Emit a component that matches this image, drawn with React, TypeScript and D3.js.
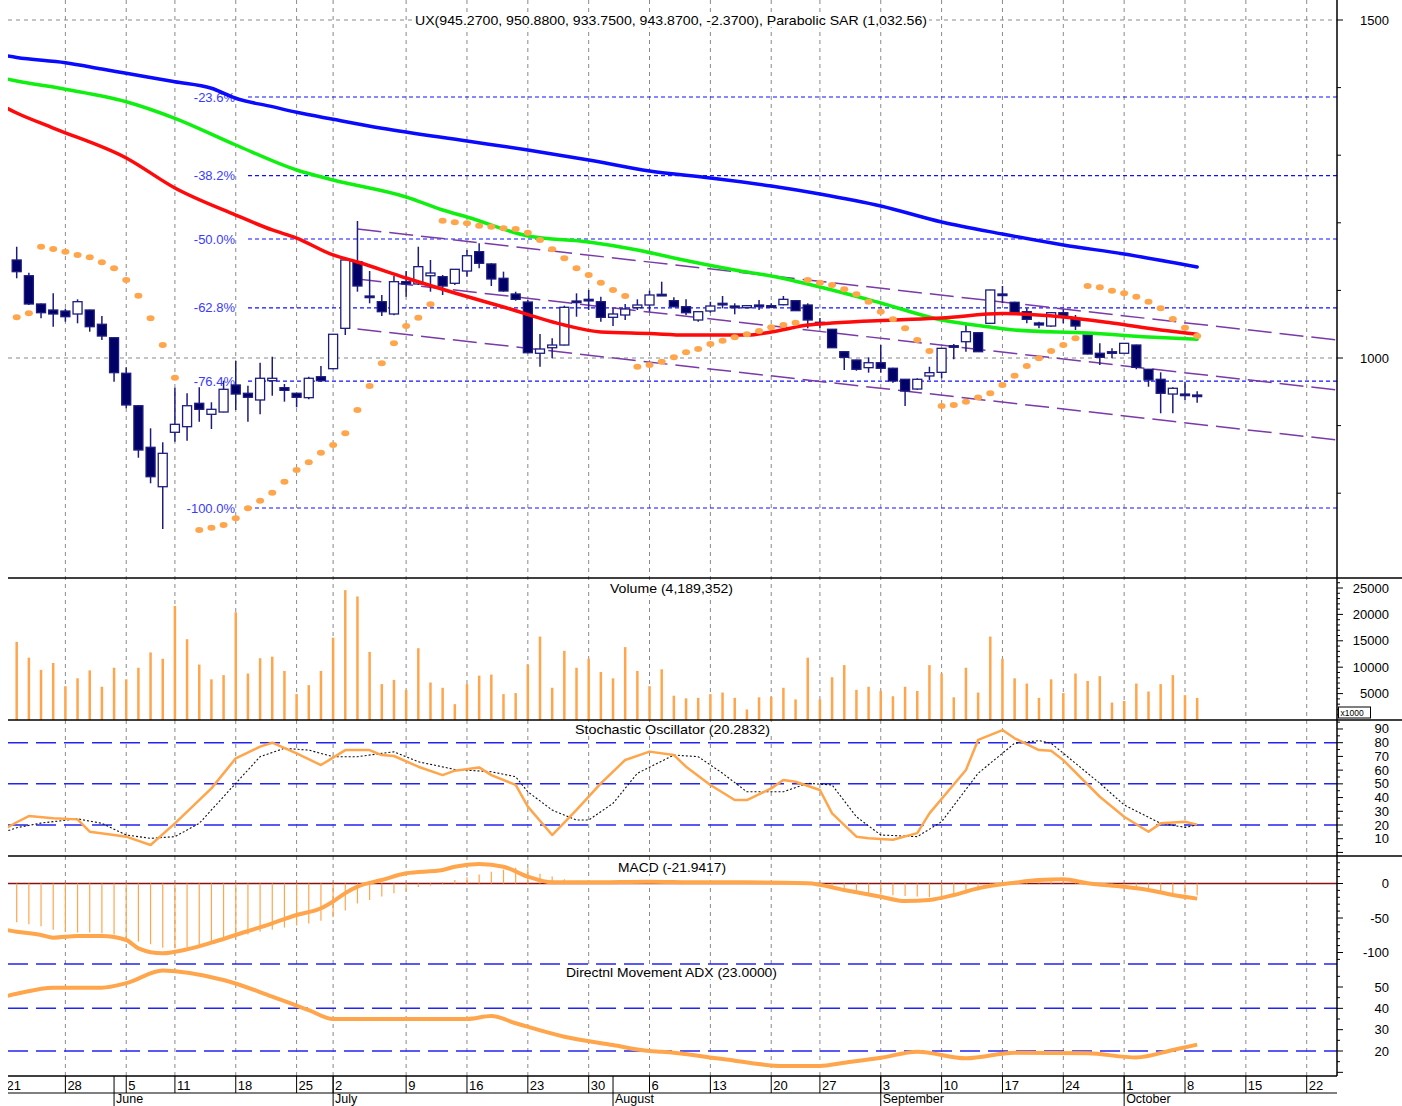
import React from "react";
import * as d3 from "d3";

const W = 1402;
const H = 1106;
const FONT = "'Liberation Sans', Arial, sans-serif";

// ---------- X axis (trading-day index) ----------
const weekTickIdx = [-1, 4, 9, 13, 18, 23, 26, 32, 37, 42, 47, 52, 57, 62, 66, 71, 76, 81, 86, 91, 96, 101, 106];
const weekTickLabels = ["21", "28", "5", "11", "18", "25", "2", "9", "16", "23", "30", "6", "13", "20", "27", "3", "10", "17", "24", "1", "8", "15", "22"];
const monthIdx = [8, 26, 49, 71, 91];
const monthLabels = ["June", "July", "August", "September", "October"];

// ---------- OHLC ----------
const opens = [1145.0, 1121.7, 1079.9, 1071.0, 1069.5, 1065.1, 1071.0, 1049.9, 1030.0, 977.4,
  929.4, 867.9, 809.6, 890.1, 898.4, 933.0, 916.7, 920.1, 960.1, 947.8,
  937.9, 966.4, 956.1, 947.8, 941.3, 972.3, 984.2, 1043.9, 1142.5, 1091.7,
  1083.3, 1065.1, 1112.9, 1109.5, 1121.7, 1120.3, 1110.5, 1128.7, 1157.3, 1139.1,
  1117.9, 1094.7, 1082.8, 1007.0, 1015.2, 1019.2, 1084.3, 1086.8, 1083.3, 1060.2,
  1063.6, 1074.4, 1078.4, 1094.2, 1084.8, 1075.9, 1056.2, 1069.5, 1080.9, 1076.9,
  1074.4, 1078.4, 1077.4, 1078.8, 1084.8, 1078.4, 1052.8, 1042.5, 1009.3, 997.0,
  985.7, 993.0, 984.8, 968.5, 954.1, 973.4, 978.8, 1018.2, 1024.1, 1037.4,
  1051.3, 1094.7, 1082.4, 1068.5, 1051.8, 1047.3, 1067.0, 1058.7, 1034.0, 1007.0,
  1009.3, 1007.0, 1019.2, 983.3, 968.5, 946.7, 946.7, 945.27];
const highs = [1164.6, 1126.2, 1080.5, 1095.7, 1072.9, 1086.8, 1071.5, 1062.1, 1030.5, 986.2,
  930.5, 896.0, 875.3, 956.1, 947.8, 956.7, 934.5, 966.4, 995.6, 959.0,
  993.0, 1001.9, 961.5, 948.5, 972.3, 988.2, 1035.6, 1145.5, 1202.7, 1128.7,
  1093.2, 1121.3, 1128.7, 1164.6, 1145.0, 1122.8, 1131.7, 1159.8, 1169.7, 1140.1,
  1127.7, 1098.1, 1085.8, 1035.5, 1029.1, 1077.4, 1095.7, 1100.6, 1090.7, 1073.5,
  1079.9, 1086.8, 1099.6, 1112.9, 1089.8, 1086.8, 1069.0, 1083.3, 1091.7, 1080.9,
  1078.5, 1085.8, 1080.9, 1091.7, 1085.3, 1080.9, 1059.2, 1043.0, 1009.8, 997.5,
  1001.0, 1019.2, 985.7, 969.0, 970.0, 987.1, 1014.8, 1020.7, 1048.8, 1037.9,
  1101.0, 1106.5, 1083.3, 1073.5, 1053.7, 1067.5, 1072.0, 1063.6, 1034.5, 1021.7,
  1014.3, 1022.2, 1019.7, 983.8, 978.8, 956.7, 964.9, 950.88];
const lows = [1117.9, 1078.4, 1058.7, 1046.3, 1053.7, 1051.3, 1038.9, 1026.6, 964.9, 925.6,
  852.5, 814.6, 747.0, 876.2, 877.7, 905.8, 895.0, 919.7, 923.1, 905.8,
  916.7, 944.2, 935.4, 927.1, 938.9, 964.9, 983.3, 1034.0, 1098.1, 1080.9,
  1062.1, 1063.2, 1090.7, 1108.0, 1098.1, 1093.2, 1108.0, 1120.3, 1132.7, 1106.5,
  1098.1, 1084.8, 1007.0, 987.1, 999.6, 1018.5, 1061.1, 1071.0, 1053.7, 1047.3,
  1056.2, 1071.0, 1068.5, 1093.2, 1075.0, 1063.6, 1053.7, 1067.0, 1073.5, 1064.6,
  1073.5, 1071.0, 1073.5, 1078.0, 1069.5, 1043.9, 1044.4, 1014.7, 982.2, 981.2,
  978.3, 978.3, 963.5, 929.0, 952.7, 967.5, 970.0, 998.1, 1009.3, 1008.8,
  1050.8, 1080.9, 1065.6, 1051.3, 1043.9, 1046.3, 1051.3, 1041.4, 1005.4, 989.6,
  999.6, 1006.5, 983.3, 957.5, 918.2, 918.2, 937.9, 933.75];
const closes = [1127.7, 1079.9, 1067.0, 1065.1, 1061.1, 1083.3, 1046.3, 1032.5, 978.3, 930.5,
  863.9, 824.4, 859.0, 901.9, 929.4, 924.1, 924.1, 953.7, 946.7, 941.9,
  970.0, 970.0, 952.2, 941.9, 970.0, 966.4, 1035.1, 1145.0, 1106.5, 1090.5,
  1068.5, 1112.9, 1109.5, 1135.1, 1125.7, 1106.5, 1131.2, 1151.3, 1140.1, 1116.9,
  1099.1, 1086.8, 1007.8, 1013.3, 1019.2, 1075.0, 1083.5, 1086.0, 1060.2, 1065.1,
  1072.5, 1078.4, 1093.2, 1094.0, 1075.9, 1067.0, 1068.5, 1076.9, 1080.0, 1074.4,
  1077.4, 1078.0, 1077.0, 1086.8, 1070.0, 1056.2, 1049.9, 1015.2, 1001.0, 983.3,
  993.0, 984.8, 966.0, 951.2, 968.5, 978.3, 1014.3, 1016.3, 1038.9, 1009.3,
  1100.6, 1094.0, 1066.1, 1057.2, 1048.8, 1067.0, 1061.1, 1047.3, 1005.9, 1001.0,
  1009.0, 1021.7, 986.2, 967.5, 947.8, 955.2, 946.24, 943.87];

// ---------- Parabolic SAR ----------
const sar: (number | null)[] = [1060.2, 1066.1, 1164.6, 1161.2, 1157.3, 1152.4, 1149.0, 1141.6, 1132.7, 1115.4,
  1092.2, 1058.7, 1019.2, 970.9, null, 745.6, 749.0, 753.0, 762.9, 777.7,
  788.9, 800.7, 817.0, 834.3, 845.7, 859.9, 871.3, 888.6, 923.1, 958.6,
  992.2, 1021.7, 1047.3, 1059.6, 1079.4, 1203.1, 1200.7, 1199.3, 1195.7, 1194.2,
  1191.9, 1190.8, 1185.4, 1174.6, 1160.8, 1147.5, 1132.7, 1122.8, 1111.4, 1100.6,
  1091.7, 987.1, 989.6, 994.5, 1001.0, 1008.4, 1013.3, 1020.7, 1025.6, 1030.6,
  1035.1, 1039.9, 1045.4, 1048.8, 1052.2, 1115.4, 1111.4, 1108.0, 1101.6, 1094.2,
  1083.3, 1068.5, 1057.2, 1043.9, 1026.6, 1010.4, 929.0, 930.5, 935.4, 941.6,
  947.8, 960.1, 973.8, 988.2, 999.6, 1010.4, 1019.2, 1029.1, 1106.5, 1104.6,
  1099.6, 1095.7, 1090.7, 1083.3, 1073.5, 1057.7, 1044.8, 1032.56];

// ---------- Moving averages [day index, value] ----------
const maBlue: [number, number][] = [[-1, 1447.5], [0, 1444.5], [4, 1436.8], [7, 1427.5], [9, 1421.2], [13, 1408.7],
  [16, 1399.0], [18, 1384.2], [21, 1371.8], [23, 1363.5], [26, 1353.1], [30, 1339.8], [37, 1321.0],
  [42, 1307.7], [47, 1292.9], [52, 1276.6], [57, 1266.3], [62, 1254.4], [66, 1242.6], [71, 1224.9],
  [76, 1201.2], [81, 1183.4], [86, 1167.2], [91, 1153.8], [97, 1134.6]];
const maGreen: [number, number][] = [[-1, 1413.5], [0, 1409.8], [4, 1397.5], [9, 1379.1], [13, 1354.6], [18, 1315.1],
  [23, 1278.1], [26, 1263.3], [32, 1238.2], [35, 1218.9], [37, 1208.6], [42, 1180.5], [47, 1171.6],
  [51, 1159.8], [54, 1147.9], [59, 1130.2], [62, 1121.3], [67, 1100.6], [71, 1081.4], [76, 1056.2],
  [80, 1045.9], [82, 1041.4], [88, 1037.0], [93, 1031.1], [97, 1027.7]];
const maRed: [number, number][] = [[-1, 1371.3], [0, 1362.4], [3, 1340.2], [9, 1295.9], [13, 1251.5], [18, 1211.5],
  [21, 1189.4], [23, 1177.5], [26, 1152.4], [28, 1142.0], [32, 1118.3], [36, 1096.2], [40, 1075.4],
  [45, 1048.8], [48, 1038.5], [52, 1036.2], [55, 1034.0], [60, 1034.0], [62, 1038.5], [65, 1048.8],
  [67, 1051.8], [72, 1056.2], [76, 1059.2], [81, 1065.8], [86, 1060.7], [90, 1051.8], [94, 1041.4],
  [97, 1035.1]];

// ---------- Fibonacci retracement ----------
const fibHigh = 1573.9;
const fibLow = 778.1;
const fibLevels = [23.6, 38.2, 50.0, 62.8, 76.4, 100.0];

// ---------- Regression channel ----------
const channelStartIdx = 28;
const channelStartValue = 1116.9;
const channelSlope = -2.04;
const channelWidth = 74;

// ---------- Volume (millions) ----------
const volumes = [14.8, 11.8, 9.5, 10.8, 6.4, 7.9, 9.4, 6.3, 9.9, 7.7,
  9.9, 12.8, 11.6, 21.6, 15.3, 10.5, 7.7, 8.5, 20.4, 8.8,
  11.7, 12.0, 9.3, 4.9, 6.6, 9.3, 15.6, 24.6, 23.4, 12.9,
  6.8, 7.6, 5.7, 13.6, 7.1, 6.1, 3.0, 6.8, 8.4, 8.6,
  4.9, 5.1, 10.5, 15.8, 6.1, 13.1, 9.9, 11.6, 9.1, 7.9,
  13.8, 9.3, 6.4, 9.6, 4.6, 4.1, 4.2, 4.9, 5.2, 4.2,
  2.0, 4.3, 4.4, 6.1, 3.9, 11.8, 3.9, 8.1, 10.4, 5.7,
  6.3, 5.5, 4.5, 6.3, 5.5, 10.4, 8.8, 4.3, 9.9, 5.2,
  15.8, 11.6, 7.9, 6.9, 4.2, 7.7, 5.1, 8.8, 7.4, 8.3,
  3.3, 3.6, 6.9, 5.4, 6.8, 8.5, 4.7, 4.189352];

// ---------- Stochastic ----------
const stochK: [number, number][] = [[-1, 17], [0, 22], [1, 26.5], [3, 24.9], [5, 24.1], [6, 15.1], [8, 12.7], [9, 11.5],
  [11, 5.4], [13, 21.2], [16, 46.7], [18, 68.6], [20, 77.1], [21, 80], [23, 72.2], [25, 63.7], [27, 74.6],
  [29, 74.6], [30, 71], [31, 70.3], [33, 62.5], [35, 56.4], [36, 59.6], [38, 62], [39, 56.4], [41, 49.2],
  [42, 33.4], [44, 12.7], [46, 31], [48, 50.4], [50, 67.4], [52, 73.5], [54, 71], [55, 62.5], [57, 49.2],
  [59, 38.2], [60, 38.2], [62, 46.7], [63, 52.8], [64, 51.5], [66, 45.5], [67, 28.5], [69, 11.5], [70, 10.4],
  [72, 9.2], [74, 14.1], [75, 28.5], [78, 60.1], [79, 82], [81, 89.2], [82, 83.2], [84, 74.6], [85, 74.1],
  [86, 67.3], [89, 40.6], [91, 26], [93, 15.1], [94, 21.2], [96, 22.4], [97, 20.28]];
const stochD: [number, number][] = [[-1, 15], [0, 18], [2, 21.4], [5, 24.5], [7, 21.2], [9, 12.7], [11, 10.3], [13, 11.5],
  [15, 21.2], [18, 50.4], [20, 69.8], [22, 75.9], [24, 74.6], [26, 69.8], [28, 69.8], [30, 72.2], [31, 73.4],
  [33, 66.1], [36, 60.5], [39, 58.8], [41, 55.2], [42, 44.2], [44, 30.9], [46, 23.6], [47, 23.6], [49, 35.8],
  [51, 57.7], [54, 71], [56, 69.8], [58, 57.7], [60, 44.2], [63, 44.2], [65, 50.4], [67, 49.2], [69, 26],
  [71, 12.7], [74, 11.5], [76, 22.4], [79, 57.7], [82, 79.6], [84, 81.5], [85, 79.6], [89, 50.4], [91, 34.6],
  [94, 21.2], [96, 18.3], [97, 20]];

// ---------- MACD ----------
const macdLine: [number, number][] = [[-1, -67], [0, -70], [2, -74.6], [3, -78.5], [5, -76.1], [7, -76.1], [9, -81.9],
  [10, -93.9], [12, -101.2], [14, -95.4], [16, -85.8], [18, -74.6], [21, -57.7], [23, -45.7], [25, -35.9],
  [26, -26], [27, -14], [28, -4.6], [30, 5.1], [32, 14.8], [35, 19.6], [36, 24.3], [38, 28.3], [40, 24.3],
  [42, 9.9], [44, 1.7], [47, 1.7], [52, 2.6], [56, 1.7], [60, 1.7], [65, 0.3], [68, -9.4], [71, -19.1],
  [73, -25.4], [75, -23.9], [77, -16.7], [79, -7], [82, 1.2], [84, 5.1], [86, 6.1], [88, 0.3], [91, -4.6],
  [93, -9.4], [95, -16.7], [97, -21.9417]];
const macdHist = [-56, -59, -62, -67, -70, -71, -71, -72, -74, -79,
  -84, -88, -93, -94, -92, -89, -86, -81, -78, -74,
  -70, -67, -64, -61, -58, -54, -49, -39, -29, -24,
  -19, -14, -11, -5, -3, 2, 5, 9, 13, 17,
  20, 23, 22, 14, 10, 6, 4, 4, 3, 3,
  3, 3, 3, 3, 2, 2, 2, 2, 2, 1,
  1, 1, 1, 0, 0, -1, -3, -6, -9, -12,
  -14, -16, -17, -18, -19, -20, -19, -17, -14, -10,
  -5, -1, 2, 4, 5, 4, 3, 1, -1, -3,
  -5, -7, -9, -11, -13, -14, -16, -17];

// ---------- ADX ----------
const adx: [number, number][] = [[-1, 45.5], [0, 46.8], [3, 49.7], [7, 49.7], [9, 51.8], [12, 57.7], [16, 54.6], [17, 53.3],
  [21, 45.5], [24, 39.2], [26, 35], [37, 35], [39, 36.4], [41, 33], [45, 26.7], [49, 22.8], [52, 20], [53, 19.7],
  [58, 16.3], [63, 13], [66, 13], [68, 14.5], [71, 16.8], [74, 19.7], [78, 16.6], [82, 19.2], [88, 18.9],
  [92, 17], [95, 20.5], [97, 23]];

const ORANGE = "#ffa64d";
const NAVY_LINE = "#1c1c80";
const NAVY_FILL = "#000066";
const GRID = "#8a8a8a";

export default function App() {
  const PL = 8;
  const PR = 1337;
  const x = d3.scaleLinear().domain([0, 106]).range([16.7, 1306.7]);
  const yP = d3.scaleLinear().domain([1000, 1500]).range([358, 20]);
  const yV = d3.scaleLinear().domain([0, 25]).range([720, 588]);
  const yS = d3.scaleLinear().domain([20, 80]).range([825, 742.7]);
  const yM = d3.scaleLinear().domain([0, -100]).range([883.5, 952.5]);
  const yA = d3.scaleLinear().domain([20, 50]).range([1051, 987]);

  const lineP = d3.line<[number, number]>().x(d => x(d[0])).y(d => yP(d[1])).curve(d3.curveMonotoneX);
  const lineS = d3.line<[number, number]>().x(d => x(d[0])).y(d => yS(d[1]));
  const lineM = d3.line<[number, number]>().x(d => x(d[0])).y(d => yM(d[1])).curve(d3.curveMonotoneX);
  const lineA = d3.line<[number, number]>().x(d => x(d[0])).y(d => yA(d[1])).curve(d3.curveMonotoneX);

  const channelEnd = x.invert(PR);
  const chan = [-channelWidth, 0, channelWidth].map(off => {
    const v0 = channelStartValue + off;
    const v1 = channelStartValue + off + channelSlope * (channelEnd - channelStartIdx);
    return { x1: x(channelStartIdx), y1: yP(v0), x2: PR, y2: yP(v1) };
  });

  const AX = PR;
  const LX = 1389;

  const axisTicks: { y: number; len: number }[] = [];
  const axisLabels: { y: number; t: string }[] = [];
  d3.range(800, 1501, 100).forEach(v => axisTicks.push({ y: yP(v), len: v % 500 === 0 ? 6 : 4 }));
  [1500, 1000].forEach(v => axisLabels.push({ y: yP(v), t: String(v) }));
  d3.range(1, 27).forEach(v => axisTicks.push({ y: yV(v), len: v % 5 === 0 ? 6 : 3 }));
  [5, 10, 15, 20, 25].forEach(v => axisLabels.push({ y: yV(v), t: String(v * 1000) }));
  d3.range(0, 100, 5).forEach(v => axisTicks.push({ y: yS(v), len: v % 10 === 0 ? 6 : 3 }));
  d3.range(10, 100, 10).forEach(v => axisLabels.push({ y: yS(v), t: String(v) }));
  d3.range(30, -111, -10).forEach(v => axisTicks.push({ y: yM(v), len: v % 50 === 0 ? 6 : 3 }));
  [0, -50, -100].forEach(v => axisLabels.push({ y: yM(v), t: String(v) }));
  d3.range(10, 56, 5).forEach(v => axisTicks.push({ y: yA(v), len: v % 10 === 0 ? 6 : 3 }));
  [20, 30, 40, 50].forEach(v => axisLabels.push({ y: yA(v), t: String(v) }));

  const titles = [
    { t: "UX(945.2700, 950.8800, 933.7500, 943.8700, -2.3700), Parabolic SAR (1,032.56)", x0: 415, x1: 927, y: 20 },
    { t: "Volume (4,189,352)", x0: 610, x1: 733, y: 588 },
    { t: "Stochastic Oscillator (20.2832)", x0: 575, x1: 770, y: 729 },
    { t: "MACD (-21.9417)", x0: 618, x1: 726, y: 867 },
    { t: "Directnl Movement ADX (23.0000)", x0: 566, x1: 777, y: 972 },
  ];

  return (
    <svg width={W} height={H} style={{ position: "absolute", left: 0, top: 0, background: "#fff" }} fontFamily={FONT}>
      <defs>
        <clipPath id="plot"><rect x={PL} y={0} width={PR - PL} height={1076} /></clipPath>
        <clipPath id="xaxis"><rect x={PL} y={1076} width={PR - PL} height={40} /></clipPath>
      </defs>
      <rect x={0} y={0} width={W} height={H} fill="#fff" />

      {/* vertical grid */}
      <g clipPath="url(#plot)">
        {weekTickIdx.map((d, i) => (
          <line key={"vg" + i} x1={x(d)} x2={x(d)} y1={0} y2={1076} stroke={GRID} strokeWidth={1} strokeDasharray="4,4" />
        ))}
        {[1500, 1000].map(v => (
          <line key={"hg" + v} x1={PL} x2={PR} y1={yP(v)} y2={yP(v)} stroke={GRID} strokeWidth={1} strokeDasharray="4,4" />
        ))}
      </g>

      {/* Fibonacci */}
      {fibLevels.map(f => {
        const v = fibHigh - (f / 100) * (fibHigh - fibLow);
        return (
          <g key={"fib" + f}>
            <line x1={248} x2={PR} y1={yP(v)} y2={yP(v)} stroke="#1010ff" strokeWidth={1.2} strokeDasharray="4,3" />
            <text x={235} y={yP(v) + 4.5} fontSize={13} fill="#3a3aff" textAnchor="end">{"-" + f.toFixed(1) + "%"}</text>
          </g>
        );
      })}

      {/* regression channel */}
      <g clipPath="url(#plot)">
        {chan.map((c, i) => (
          <line key={"ch" + i} x1={c.x1} y1={c.y1} x2={c.x2} y2={c.y2} stroke="#7a3aa8" strokeWidth={1.5} strokeDasharray="24,8" />
        ))}
      </g>

      {/* candles */}
      <g>
        {opens.map((o, i) => {
          const c = closes[i];
          const up = c >= o;
          const cx = x(i);
          const top = yP(Math.max(o, c));
          const bot = yP(Math.min(o, c));
          return (
            <g key={"c" + i}>
              <line x1={cx} x2={cx} y1={yP(highs[i])} y2={yP(lows[i])} stroke={NAVY_LINE} strokeWidth={1.5} />
              <rect x={cx - 4.5} y={top} width={9} height={Math.max(bot - top, 1.6)} fill={up ? "#fff" : NAVY_FILL} stroke={NAVY_LINE} strokeWidth={1.3} />
            </g>
          );
        })}
      </g>

      {/* moving averages */}
      <g clipPath="url(#plot)" fill="none" strokeLinejoin="round" strokeLinecap="round">
        <path d={lineP(maBlue) || ""} stroke="#0a0aff" strokeWidth={3.5} />
        <path d={lineP(maGreen) || ""} stroke="#10f010" strokeWidth={3.5} />
        <path d={lineP(maRed) || ""} stroke="#ff0a0a" strokeWidth={3.5} />
      </g>

      {/* SAR */}
      <g>
        {sar.map((v, i) => v == null ? null : (
          <ellipse key={"s" + i} cx={x(i)} cy={yP(v)} rx={4} ry={3} fill={ORANGE} />
        ))}
      </g>

      {/* Volume */}
      <g>
        {volumes.map((v, i) => (
          <line key={"v" + i} x1={x(i)} x2={x(i)} y1={yV(0)} y2={yV(v)} stroke={ORANGE} strokeWidth={2.5} />
        ))}
      </g>

      {/* Stochastic */}
      {[80, 50, 20].map(v => (
        <line key={"sl" + v} x1={PL} x2={PR} y1={yS(v)} y2={yS(v)} stroke="#2424f0" strokeWidth={1.5} strokeDasharray="20,8" />
      ))}
      <g clipPath="url(#plot)" fill="none">
        <path d={lineS(stochD) || ""} stroke="#111" strokeWidth={1.1} strokeDasharray="2,2" />
        <path d={lineS(stochK) || ""} stroke={ORANGE} strokeWidth={2.5} strokeLinejoin="round" />
      </g>

      {/* MACD */}
      <line x1={PL} x2={PR} y1={yM(0)} y2={yM(0)} stroke="#8b1010" strokeWidth={1.5} />
      <g>
        {macdHist.map((v, i) => (
          <line key={"h" + i} x1={x(i)} x2={x(i)} y1={yM(0)} y2={yM(v)} stroke={ORANGE} strokeWidth={1.2} />
        ))}
      </g>
      <g clipPath="url(#plot)" fill="none">
        <path d={lineM(macdLine) || ""} stroke={ORANGE} strokeWidth={4} strokeLinejoin="round" />
      </g>
      <line x1={PL} x2={PR} y1={964} y2={964} stroke="#2424f0" strokeWidth={1.5} strokeDasharray="20,8" />

      {/* ADX */}
      {[40, 20].map(v => (
        <line key={"al" + v} x1={PL} x2={PR} y1={yA(v)} y2={yA(v)} stroke="#2424f0" strokeWidth={1.5} strokeDasharray="20,8" />
      ))}
      <g clipPath="url(#plot)" fill="none">
        <path d={lineA(adx) || ""} stroke={ORANGE} strokeWidth={4} strokeLinejoin="round" />
      </g>

      {/* panel separators */}
      {[578, 720, 856].map(y => (
        <line key={"sep" + y} x1={PL} x2={W} y1={y} y2={y} stroke="#000" strokeWidth={1.5} />
      ))}

      {/* titles */}
      {titles.map((t, i) => (
        <g key={"t" + i}>
          <rect x={t.x0 - 2} y={t.y - 7} width={t.x1 - t.x0 + 4} height={14} fill="#fff" />
          <text x={(t.x0 + t.x1) / 2} y={t.y + 4.5} fontSize={13} textAnchor="middle" textLength={t.x1 - t.x0} lengthAdjust="spacingAndGlyphs">{t.t}</text>
        </g>
      ))}

      {/* right axis */}
      <line x1={AX} x2={AX} y1={0} y2={1076} stroke="#000" strokeWidth={1.5} />
      {axisTicks.map((t, i) => (
        <line key={"at" + i} x1={AX} x2={AX + t.len} y1={t.y} y2={t.y} stroke="#000" strokeWidth={1} />
      ))}
      {axisLabels.map((l, i) => (
        <text key={"al" + i} x={LX} y={l.y + 4.5} fontSize={13} textAnchor="end">{l.t}</text>
      ))}
      <rect x={1338.5} y={707} width={32} height={11} fill="#fff" stroke="#000" strokeWidth={1} />
      <text x={1340.5} y={715.5} fontSize={8.5}>x1000</text>

      {/* bottom x axis */}
      <line x1={PL} x2={PR} y1={1076} y2={1076} stroke="#000" strokeWidth={1.5} />
      <line x1={PL} x2={PR} y1={1093} y2={1093} stroke="#000" strokeWidth={1} />
      <g clipPath="url(#xaxis)">
        {weekTickIdx.map((d, i) => (
          <g key={"xt" + i}>
            <line x1={x(d)} x2={x(d)} y1={1076} y2={1093} stroke="#000" strokeWidth={1} />
            <text x={x(d) + 2} y={1089.5} fontSize={13}>{weekTickLabels[i]}</text>
          </g>
        ))}
        {monthIdx.map((d, i) => (
          <g key={"mt" + i}>
            <line x1={x(d)} x2={x(d)} y1={1076} y2={1106} stroke="#000" strokeWidth={1} />
            <text x={x(d) + 2} y={1103} fontSize={12.5}>{monthLabels[i]}</text>
          </g>
        ))}
      </g>
    </svg>
  );
}
